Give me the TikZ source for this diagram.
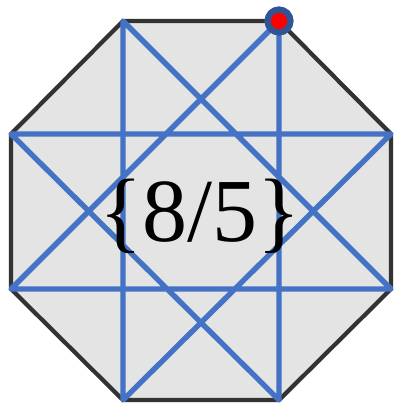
\documentclass[tikz,border=0pt]{standalone}
\usepackage{fontspec}
\setmainfont{Liberation Serif}
\definecolor{sternblau}{HTML}{4472C4}
\definecolor{randblau}{HTML}{2F5597}
\definecolor{flaeche}{HTML}{E4E4E4}
\begin{document}
\begin{tikzpicture}[line cap=round,line join=round,x=0.025cm,y=-0.025cm]
		\useasboundingbox (0,0) rectangle (394,405);
		% Ecken des Achtecks
		\coordinate (P1) at (123,21);
		\coordinate (P2) at (279,21);
		\coordinate (P3) at (391,134);
		\coordinate (P4) at (391,289);
		\coordinate (P5) at (279,400);
		\coordinate (P6) at (123,400);
		\coordinate (P7) at (11,289);
		\coordinate (P8) at (11,134);

		% Achteck
		\fill[flaeche] (P1) -- (P2) -- (P3) -- (P4) -- (P5) -- (P6) -- (P7) -- (P8) -- cycle;
		\draw[color=black!80,line width=3pt] (P1) -- (P2) -- (P3) -- (P4) -- (P5) -- (P6) -- (P7) -- (P8) -- cycle;

		% Stern {8/3}
		\draw[color=sternblau,line width=3.8pt] (P1) -- (P4) -- (P7) -- (P2) -- (P5) -- (P8) -- (P3) -- (P6) -- cycle;

		\node (label) at (200,216) {\fontsize{64}{64}\selectfont \{8/5\}};

		% Startpunkt
		\filldraw[fill=red,draw=randblau,line width=4.4pt] (P2) circle (11.5);
	\end{tikzpicture}
\end{document}
